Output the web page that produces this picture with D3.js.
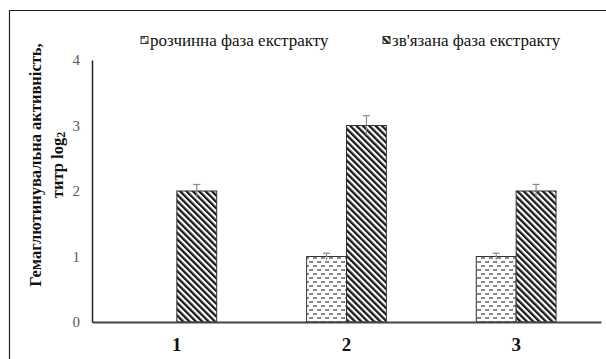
<!DOCTYPE html>
<html>
<head>
<meta charset="utf-8">
<script src="https://cdn.jsdelivr.net/npm/d3@7"></script>
<style>
  html, body { margin: 0; padding: 0; background: #fff; overflow: hidden; }
  svg { display: block; }
  svg text { font-family: "Liberation Serif", "Times New Roman", serif; }
</style>
</head>
<body>
<svg id="chart" width="606" height="359"></svg>
<script>
// Haemagglutinating activity (titre, log2) by sample
const categories = ["1", "2", "3"];
const seriesNames = ["розчинна фаза екстракту", "зв'язана фаза екстракту"];
const solubleValues = [0, 1, 1];
const boundValues = [2, 3, 2];
const solubleErrors = [0, 0.05, 0.05];
const boundErrors = [0.1, 0.15, 0.1];
const yTicks = [0, 1, 2, 3, 4];

const svg = d3.select("#chart");
const defs = svg.append("defs");

// dashed fill for the soluble phase
const dash = defs.append("pattern")
  .attr("id", "dashFill")
  .attr("patternUnits", "userSpaceOnUse")
  .attr("width", 8).attr("height", 8);
dash.append("rect").attr("width", 8).attr("height", 8).attr("fill", "#fff");
[[1, 5, 2], [5, 9, 6], [-3, 1, 6]].forEach(([a, b, yy]) => {
  dash.append("line").attr("x1", a).attr("x2", b).attr("y1", yy).attr("y2", yy)
    .attr("stroke", "#4a4a4a").attr("stroke-width", 1.3);
});

// diagonal hatch for the bound phase
const hatch = defs.append("pattern")
  .attr("id", "hatchFill")
  .attr("patternUnits", "userSpaceOnUse")
  .attr("width", 4.5).attr("height", 10)
  .attr("patternTransform", "rotate(-45)");
hatch.append("rect").attr("width", 4.5).attr("height", 10).attr("fill", "#fff");
hatch.append("rect").attr("x", 0).attr("width", 2.3).attr("height", 10).attr("fill", "#1a1a1a");

const fills = ["url(#dashFill)", "url(#hatchFill)"];

// outer frame (left and top edges)
svg.append("path")
  .attr("d", "M9.5,359 V10.5 H606")
  .attr("fill", "none").attr("stroke", "#222").attr("stroke-width", 1.2);

const x = d3.scaleBand().domain(categories).range([92, 601])
  .paddingInner(0.53).paddingOuter(0.265);
const xs = d3.scaleBand().domain([0, 1]).range([0, x.bandwidth()]);
const y = d3.scaleLinear().domain([0, 4]).range([322, 60]);

// bars
const rows = [];
categories.forEach((c, i) => {
  rows.push({ c, s: 0, v: solubleValues[i], e: solubleErrors[i] });
  rows.push({ c, s: 1, v: boundValues[i], e: boundErrors[i] });
});
const bars = rows.filter(d => d.v > 0);

svg.append("g").selectAll("rect").data(bars).join("rect")
  .attr("x", d => x(d.c) + xs(d.s))
  .attr("y", d => y(d.v))
  .attr("width", xs.bandwidth())
  .attr("height", d => y(0) - y(d.v))
  .attr("fill", d => fills[d.s])
  .attr("stroke", "#333").attr("stroke-width", 1);

// error bars
const eg = svg.append("g").attr("stroke", "#8a8a8a").attr("stroke-width", 1.2);
bars.forEach(d => {
  const cx = x(d.c) + xs(d.s) + xs.bandwidth() / 2;
  eg.append("line").attr("x1", cx).attr("x2", cx)
    .attr("y1", y(d.v + d.e)).attr("y2", y(d.v - d.e));
  eg.append("line").attr("x1", cx - 3.5).attr("x2", cx + 3.5)
    .attr("y1", y(d.v + d.e)).attr("y2", y(d.v + d.e));
});

// y axis
const yAxis = svg.append("g").attr("transform", "translate(92,0)")
  .call(d3.axisLeft(y).tickValues(yTicks).tickFormat(d3.format("d"))
    .tickSize(0).tickPadding(12));
yAxis.attr("font-family", null);
yAxis.select(".domain").attr("stroke", "#222").attr("stroke-width", 1.5);
yAxis.selectAll("text")
  .attr("font-size", 15).attr("fill", "#595959");

// x axis
const xAxis = svg.append("g").attr("transform", "translate(0,322)")
  .call(d3.axisBottom(x).tickSize(0).tickPadding(16));
xAxis.attr("font-family", null);
xAxis.select(".domain").attr("stroke", "#444").attr("stroke-width", 2.2);
xAxis.selectAll("text")
  .attr("font-size", 19).attr("font-weight", "bold").attr("fill", "#111");

// y axis title
const yt = svg.append("text")
  .attr("transform", "translate(0,165) rotate(-90)")
  .attr("text-anchor", "middle")
  .attr("font-size", 16.5).attr("font-weight", "bold").attr("fill", "#111");
yt.append("tspan").attr("x", 0).attr("y", 41).text("Гемаглютинувальна активність,");
yt.append("tspan").attr("x", 0).attr("y", 63).text("титр log");
yt.append("tspan").attr("font-size", 12).attr("dy", 2).text("2");

// legend
const legendX = [141, 383];
const lg = svg.append("g");
seriesNames.forEach((name, i) => {
  lg.append("rect").attr("x", legendX[i]).attr("y", 36.5)
    .attr("width", 7).attr("height", 7)
    .attr("fill", fills[i]).attr("stroke", "#333").attr("stroke-width", 1);
  lg.append("text").attr("x", legendX[i] + 9).attr("y", 46)
    .attr("font-size", 17).attr("fill", "#111").text(name);
});
</script>
</body>
</html>
